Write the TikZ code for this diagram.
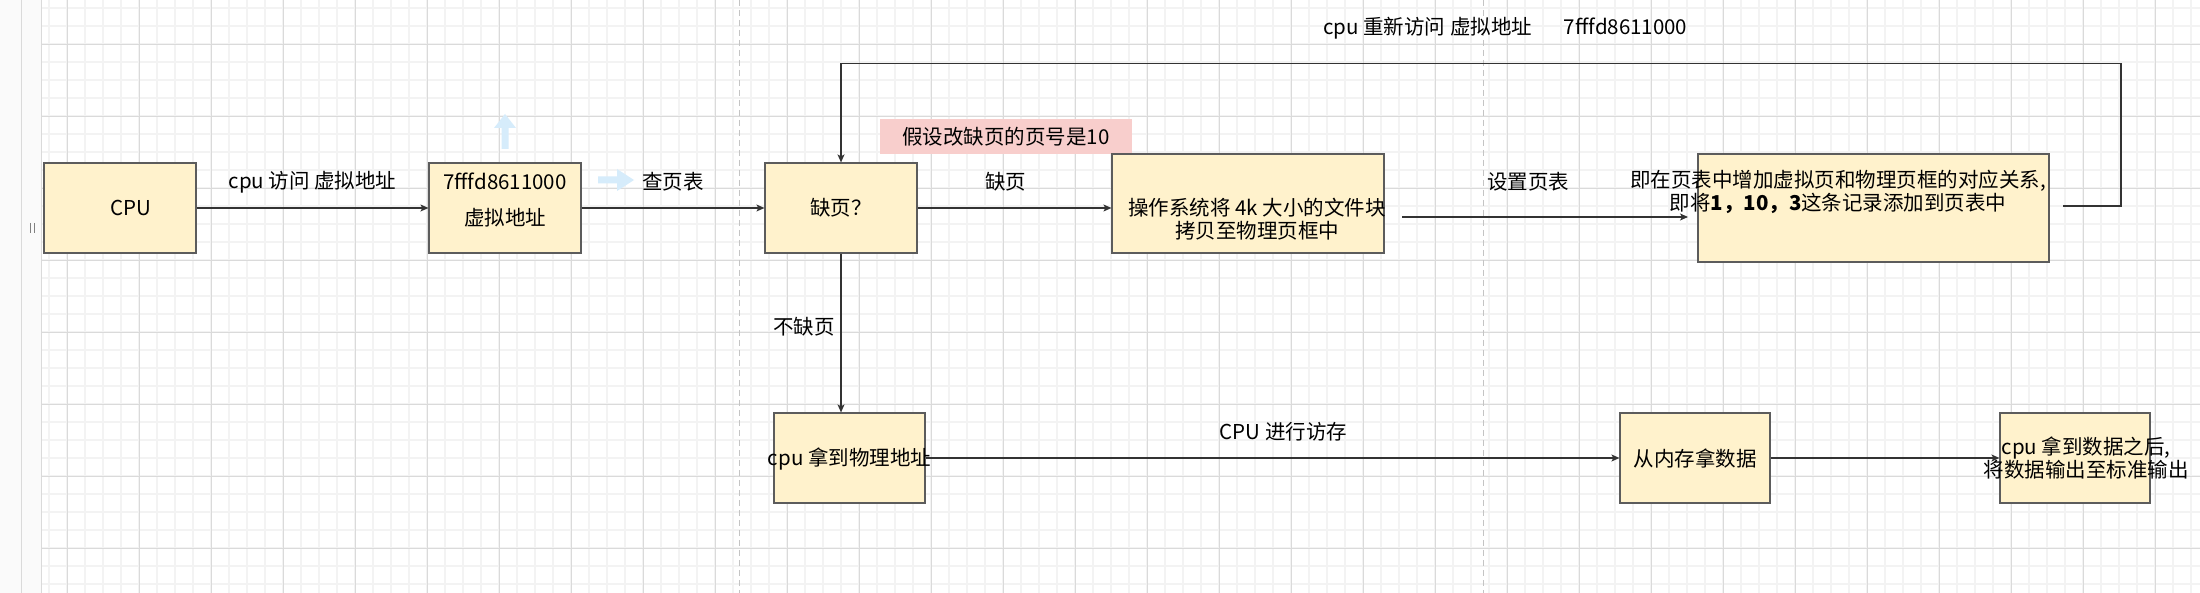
\documentclass[tikz,border=0pt]{standalone}
\usepackage{fontspec}
\setmainfont{Noto Sans CJK SC}
\usetikzlibrary{arrows.meta}
\definecolor{boxfill}{HTML}{FFF2CC}
\definecolor{boxline}{HTML}{5C5C5C}
\definecolor{notefill}{HTML}{F8CECC}
\definecolor{gridminor}{HTML}{F3F3F3}
\definecolor{gridmajor}{HTML}{DADADA}
\definecolor{pagegrey}{HTML}{FAFAFA}
\definecolor{pagebreak}{HTML}{C4C4C4}
\definecolor{hoverblue}{HTML}{D6ECFB}

\begin{document}
\begin{tikzpicture}[x=1pt,y=-1pt,
	box/.style={draw=boxline,fill=boxfill,line width=1.2pt,inner sep=0pt},
	txt/.style={inner sep=0pt,align=center,font=\fontsize{20.5pt}{23pt}\selectfont},
	arr/.style={draw=black!80,line width=1.1pt,-{Stealth[length=8pt,width=7pt,inset=2pt]}}]
		\useasboundingbox (0,0) rectangle (2200,593);
		% canvas and grid
		\fill[white] (0,0) rectangle (2200,593);
		\fill[pagegrey] (0,0) rectangle (41,593);
		\foreach \x in {49,67,...,2200}
		\draw[gridminor,line width=1.5pt] (\x,0) -- (\x,593);
		\foreach \y in {8,26,...,593}
		\draw[gridminor,line width=1.5pt] (41,\y) -- (2200,\y);
		\foreach \x in {67,139,...,2200}
		\draw[gridmajor] (\x,0) -- (\x,593);
		\foreach \y in {44,116,...,593}
		\draw[gridmajor] (41,\y) -- (2200,\y);
		\draw[gridmajor] (21,0) -- (21,593);
		\draw[gridmajor] (41,0) -- (41,593);
		\draw[gray,line width=1pt] (30.5,223) -- (30.5,233) (34.5,223) -- (34.5,233);
		\draw[pagebreak,line width=1pt,dash pattern=on 6pt off 4pt] (739,0) -- (739,593);
		\draw[pagebreak,line width=1pt,dash pattern=on 6pt off 4pt] (1483,0) -- (1483,593);

		% hover arrows
		\fill[hoverblue] (501.5,149) -- (501.5,128) -- (494,128) -- (505,114) -- (516,128) -- (508.5,128) -- (508.5,149) -- cycle;
		\fill[hoverblue] (598,176.5) -- (617,176.5) -- (617,169) -- (634,180) -- (617,191) -- (617,183.5) -- (598,183.5) -- cycle;

		% boxes
		\node[box,minimum width=152pt,minimum height=90pt] (cpu) at (120,208) {};
		\node[box,minimum width=152pt,minimum height=90pt] (vaddr) at (505,208) {};
		\node[box,minimum width=152pt,minimum height=90pt] (miss) at (841,208) {};
		\node[fill=notefill,minimum width=252pt,minimum height=35pt,inner sep=0pt] (note) at (1006,136.5) {};
		\node[box,minimum width=272pt,minimum height=99pt] (osload) at (1248,203.5) {};
		\node[box,minimum width=351pt,minimum height=108pt] (ptset) at (1873.5,208) {};
		\node[box,minimum width=151pt,minimum height=90pt] (paddr) at (849.5,458) {};
		\node[box,minimum width=150pt,minimum height=90pt] (memget) at (1695,458) {};
		\node[box,minimum width=150pt,minimum height=90pt] (output) at (2075,458) {};

		\coordinate (osout) at (1402,217);
		\coordinate (ptin) at (1688,217);
		\coordinate (ptback) at (2063,206);

		% texts
		\node[txt] (cputxt) at (131,208) {CPU};
		\node[txt] (vaddrtxt) at (505,200) {7fffd8611000\\[13pt]虚拟地址};
		\node[txt] (misstxt) at (841,208) {缺页？};
		\node[txt] (notetxt) at (note) {假设改缺页的页号是10};
		\node[txt] (ostxt) at (1257,219) {操作系统将 4k 大小的文件块\\拷贝至物理页框中};
		\node[txt] (pttxt) at (1838,191.5) {即在页表中增加虚拟页和物理页框的对应关系,\\即将\textbf{1，10，3}这条记录添加到页表中};
		\node[txt] (paddrtxt) at (849.5,459) {cpu 拿到物理地址};
		\node[txt] (memtxt) at (1695,459) {从内存拿数据};
		\node[txt] (outtxt) at (2086,458) {cpu 拿到数据之后,\\将数据输出至标准输出};
		\node[txt,anchor=west] (retry) at (1323,28) {cpu 重新访问 虚拟地址\hspace{32pt}7fffd8611000};

		% connectors
		\draw[arr] (cpu) -- node[txt,yshift=26pt] {cpu 访问 虚拟地址} (vaddr);
		\draw[arr] (vaddr) -- node[txt,yshift=26pt] {查页表} (miss);
		\draw[arr] (miss.east) -- node[txt,yshift=26pt,xshift=-9pt] {缺页} (miss.east -| osload.west);
		\draw[arr] (osout) -- node[txt,yshift=35pt,xshift=-17pt] {设置页表} (ptin);
		\draw[arr] (ptback) -- ++(58,0) |- ([yshift=99pt]miss.north) -- (miss.north);
		\draw[arr] (miss.south) -- node[txt,xshift=-37pt,yshift=6pt] {不缺页} (miss.south |- paddr.north);
		\draw[arr] (paddr) -- node[txt,yshift=26pt,xshift=11pt] {CPU 进行访存} (memget);
		\draw[arr] (memget) -- (output);
	    \end{tikzpicture}
\end{document}
